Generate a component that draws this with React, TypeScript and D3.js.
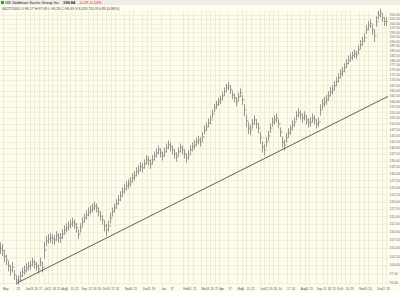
import React from "react";
import * as d3 from "d3";

const W = 400;
const H = 292;

// mid price of each bar (roughly 2 trading days per bar), May 2005 -> Dec 2006
const mids = [
  105.0, 104.4, 102.6, 101.5, 99.7, 98.6, 99.4, 97.2, 95.8, 95.8,
  96.9, 98.0, 98.6, 99.2, 99.7, 100.0, 100.9, 100.3, 99.7, 98.9,
  100.9, 99.4, 104.4, 107.2, 107.8, 108.1, 107.8, 107.5, 108.7, 108.1,
  108.1, 109.3, 110.6, 111.3, 111.9, 112.5, 113.1, 112.5, 111.3, 109.3,
  111.3, 113.1, 114.5, 115.5, 116.5, 117.2, 117.8, 118.5, 117.8, 116.5,
  115.1, 113.8, 111.9, 110.6, 111.9, 114.5, 116.5, 117.8, 119.2, 120.6,
  121.9, 123.4, 124.4, 125.5, 126.2, 127.0, 128.5, 129.2, 130.7, 131.4,
  132.6, 132.2, 133.7, 135.3, 134.9, 133.7, 135.3, 136.8, 138.0, 139.2,
  138.0, 136.8, 138.4, 140.0, 141.2, 140.4, 139.2, 137.6, 136.4, 138.4,
  140.0, 139.2, 137.6, 136.0, 137.2, 139.2, 140.4, 141.2, 142.4, 143.2,
  142.4, 144.5, 147.4, 148.7, 150.4, 151.7, 154.3, 157.0, 158.4, 159.8,
  160.7, 162.5, 164.5, 166.3, 167.3, 165.4, 163.0, 161.6, 159.8, 162.1,
  164.0, 160.7, 156.1, 151.3, 148.2, 147.4, 150.0, 151.7, 150.0, 148.2,
  144.1, 140.4, 139.2, 142.4, 144.9, 148.2, 150.8, 151.7, 152.5, 150.0,
  146.5, 142.4, 141.2, 144.1, 146.1, 147.4, 149.5, 150.8, 153.5, 154.8,
  153.9, 152.5, 153.5, 151.7, 150.4, 150.8, 152.5, 151.7, 150.0, 150.8,
  156.1, 158.8, 159.8, 160.7, 162.5, 164.5, 165.4, 167.3, 169.3, 171.2,
  173.2, 174.2, 176.2, 178.3, 180.3, 181.4, 182.4, 183.5, 182.9, 185.6,
  188.3, 190.0, 192.1, 196.6, 198.8, 200.0, 196.6, 193.2, 201.2, 205.0,
  206.2, 203.4, 201.2, 201.2,
];

// high - low range of each bar
const spreads = [
  3.5, 3.5, 3.5, 3, 3, 3, 3, 2.8, 2.6, 2.6,
  2.6, 2.6, 2.6, 2.6, 2.6, 2.6, 2.6, 2.6, 2.6, 2.6,
  2.6, 3, 5, 3.2, 3, 3, 3, 3, 3, 3,
  3, 3, 3, 3, 3, 3, 3, 3, 3, 3,
  3, 3, 3, 3, 3, 3, 3, 3, 3, 3,
  3, 3, 3.5, 4, 3.5, 3.5, 3, 3, 3.2, 3.2,
  3.4, 3.4, 3.4, 3.4, 3.4, 3.4, 3.4, 3.4, 3.4, 3.4,
  3.6, 3.6, 3.6, 3.6, 3.6, 3.6, 3.6, 3.6, 3.6, 3.6,
  3.6, 3.6, 3.6, 3.6, 3.6, 3.6, 3.6, 3.6, 3.6, 3.6,
  3.6, 3.6, 3.6, 3.6, 3.6, 3.6, 3.6, 3.6, 3.6, 3.6,
  3.8, 3.8, 3.8, 3.8, 3.8, 3.8, 3.8, 3.8, 3.8, 3.8,
  4, 4, 4, 4, 4, 4, 4, 4, 4, 4,
  4, 4.5, 5.5, 5.5, 5, 4.5, 4, 4, 4, 4.5,
  5, 4.5, 4.5, 4, 4, 4, 4, 4, 4, 4,
  4, 4.5, 4.5, 4, 4, 4, 4, 4, 4, 4,
  4, 4, 4, 4, 4, 4, 4, 4, 4, 4,
  5, 4.5, 4.5, 4.5, 4.5, 4.5, 4.5, 4.5, 4.5, 4.5,
  4.5, 4.5, 4.5, 4.5, 4.5, 4.5, 4.5, 4.5, 4.5, 4.5,
  5, 5, 5, 5, 5, 5, 6, 7, 6, 5,
  5, 5, 5, 5,
];

const yTickLabels = [
  "95.00", "97.50", "100.00", "102.50", "105.00", "107.50", "110.00", "112.50",
  "115.00", "117.50", "120.00", "122.50", "125.00", "127.50", "130.00", "132.50",
  "135.00", "137.50", "140.00", "142.50", "145.00", "147.50", "150.00", "152.50",
  "155.00", "157.50", "160.00", "162.50", "165.00", "167.50", "170.00", "172.50",
  "175.00", "177.50", "180.00", "182.50", "185.00", "187.50", "190.00", "192.50",
  "195.00", "197.50", "200.00", "202.50", "205.00",
];

const xTickDates = [
  "2005-05-02", "2005-05-23", "2005-06-06", "2005-06-13", "2005-06-20", "2005-06-27",
  "2005-07-05", "2005-07-11", "2005-07-18", "2005-07-25", "2005-08-01",
  "2005-08-08", "2005-08-15", "2005-08-22", "2005-09-01", "2005-09-12", "2005-09-19",
  "2005-09-26", "2005-10-03", "2005-10-10", "2005-10-17", "2005-10-24", "2005-11-07",
  "2005-11-14", "2005-11-21", "2005-12-05", "2005-12-12", "2005-12-19", "2006-01-03",
  "2006-01-17", "2006-02-06", "2006-02-13", "2006-02-21", "2006-03-06", "2006-03-13",
  "2006-03-20", "2006-03-27", "2006-04-03", "2006-04-17", "2006-05-01", "2006-05-08",
  "2006-05-15", "2006-05-22", "2006-06-05", "2006-06-12", "2006-06-19", "2006-06-26",
  "2006-07-03", "2006-07-17", "2006-07-24", "2006-08-07", "2006-08-14", "2006-08-21",
  "2006-09-01", "2006-09-11", "2006-09-18", "2006-09-25", "2006-10-02", "2006-10-09",
  "2006-10-16", "2006-10-23", "2006-11-06", "2006-11-13", "2006-11-20", "2006-12-04",
  "2006-12-11", "2006-12-18",
];
const xTickLabels = [
  "May", "23", "Jun", "13", "20", "27",
  "Jul", "11", "18", "25", "Aug",
  "8", "15", "22", "Sep", "12", "19",
  "26", "Oct", "10", "17", "24", "Nov",
  "14", "21", "Dec", "12", "19", "Jan",
  "17", "Feb", "13", "21", "Mar", "13",
  "20", "27", "Apr", "17", "May", "8",
  "15", "22", "Jun", "12", "19", "26",
  "Jul", "17", "24", "Aug", "14", "21",
  "Sep", "11", "18", "25", "Oct", "9",
  "16", "23", "Nov", "13", "20", "Dec",
  "11", "18",
];

// trend line anchors: [bar index, price]
const trendPoints: [number, number][] = [
  [8.5, 95.0],
  [194, 162.3],
];

const symbol = "GS Goldman Sachs Group Inc";
const lastPrice = "199.84";
const change = "-0.29";
const changePct = "-0.14%";
const infoLine = "06/27/2005 O:96.17 H:97.09 L:96.26 C:96.69 V:3,019,710 R:0.83 (0.86%)";

const FONT = "'Liberation Sans', 'DejaVu Sans', sans-serif";

export default function App() {
  const plotTop = 11;
  const plotBottom = 285;
  const plotRight = 388;

  const x = d3.scaleLinear().domain([0, mids.length - 1]).range([0, 386]);
  const y = d3.scaleLog().domain([95, 205]).range([283, 15]);
  const t = d3
    .scaleTime()
    .domain([new Date(2005, 3, 28), new Date(2006, 11, 21)])
    .range([0, plotRight]);
  const parse = d3.timeParse("%Y-%m-%d");

  const yTicks = yTickLabels.map((s) => ({ v: parseFloat(s), s }));
  const xTicks = xTickDates.map((d, i) => ({ x: t(parse(d) as Date), s: xTickLabels[i] }));

  const trend = d3
    .line<[number, number]>()
    .x((d) => x(d[0]))
    .y((d) => y(d[1]))(trendPoints);

  return (
    <svg
      width={W}
      height={H}
      viewBox={`0 0 ${W} ${H}`}
      style={{ position: "absolute", left: 0, top: 0, display: "block" }}
      fontFamily={FONT}
    >
      <rect x={0} y={0} width={W} height={H} fill="#fdfcee" />
      <rect x={0} y={0} width={W} height={5} fill="#efeee4" />

      {/* grid */}
      <g shapeRendering="crispEdges">
        {yTicks.map((d) => (
          <line
            key={"hy" + d.s}
            x1={0}
            x2={plotRight}
            y1={Math.round(y(d.v)) + 0.5}
            y2={Math.round(y(d.v)) + 0.5}
            stroke="#f2f0d6"
            strokeWidth={1}
          />
        ))}
        {xTicks.map((d, i) => (
          <line
            key={"vx" + i}
            x1={Math.round(d.x) + 0.5}
            x2={Math.round(d.x) + 0.5}
            y1={plotTop}
            y2={plotBottom}
            stroke="#efedcf"
            strokeWidth={1}
          />
        ))}
      </g>

      {/* price bars (OHLC style: open = previous mid, close = this mid) */}
      <g stroke="#8c8c8c" strokeWidth={0.9}>
        {mids.map((m, i) => {
          const cx = x(i) + 0.5;
          const open = i > 0 ? mids[i - 1] : m;
          return (
            <g key={"b" + i}>
              <line x1={cx} x2={cx} y1={y(m + spreads[i] / 2)} y2={y(m - spreads[i] / 2)} />
              <line x1={cx - 1} x2={cx} y1={y(open)} y2={y(open)} />
              <line x1={cx} x2={cx + 1} y1={y(m)} y2={y(m)} />
            </g>
          );
        })}
      </g>

      {/* trend line */}
      <path d={trend ?? ""} fill="none" stroke="#3a3a3a" strokeWidth={0.8} />

      {/* y labels */}
      <g fontSize={3.4} fill="#6a6a6a">
        {yTicks.map((d) => (
          <text key={"yl" + d.s} x={389.5} y={y(d.v) + 1.2}>
            {d.s}
          </text>
        ))}
      </g>

      {/* x labels */}
      <g fontSize={3.0} fill="#555">
        {xTicks.map((d, i) => (
          <text key={"xl" + i} x={d.x + 0.3} y={290}>
            {d.s}
          </text>
        ))}
      </g>

      {/* header */}
      <rect x={1} y={1} width={3} height={3} fill="#3f9a3a" />
      <text x={5} y={4.3} fontSize={4} fill="#222">
        {symbol}
      </text>
      <text x={63} y={4.3} fontSize={4} fill="#222" fontWeight="bold">
        {lastPrice}
      </text>
      <text x={79} y={4.3} fontSize={4} fill="#d22">
        {change}
      </text>
      <text x={89} y={4.3} fontSize={4} fill="#d22">
        {changePct}
      </text>
      <text x={2} y={9.5} fontSize={3.6} fill="#444">
        {infoLine}
      </text>
    </svg>
  );
}
